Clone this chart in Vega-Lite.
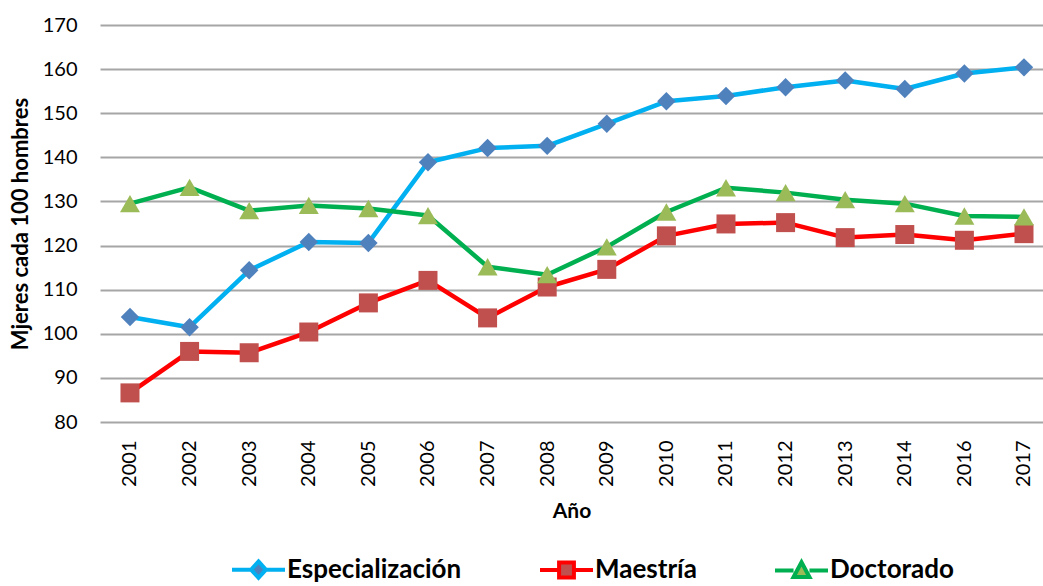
{
  "$schema": "https://vega.github.io/schema/vega-lite/v6.json",
  "width": 943,
  "height": 397,
  "autosize": {"type": "none"},
  "padding": {"left": 100, "top": 25, "right": 0, "bottom": 164},
  "background": "white",
  "config": {"view": {"stroke": null}, "font": "Lato"},
  "data": {
    "values": [
      {"anio": "2001", "serie": "Especialización", "valor": 103.8},
      {"anio": "2002", "serie": "Especialización", "valor": 101.5},
      {"anio": "2003", "serie": "Especialización", "valor": 114.4},
      {"anio": "2004", "serie": "Especialización", "valor": 120.8},
      {"anio": "2005", "serie": "Especialización", "valor": 120.6},
      {"anio": "2006", "serie": "Especialización", "valor": 138.9},
      {"anio": "2007", "serie": "Especialización", "valor": 142.1},
      {"anio": "2008", "serie": "Especialización", "valor": 142.6},
      {"anio": "2009", "serie": "Especialización", "valor": 147.6},
      {"anio": "2010", "serie": "Especialización", "valor": 152.7},
      {"anio": "2011", "serie": "Especialización", "valor": 153.9},
      {"anio": "2012", "serie": "Especialización", "valor": 155.9},
      {"anio": "2013", "serie": "Especialización", "valor": 157.4},
      {"anio": "2014", "serie": "Especialización", "valor": 155.5},
      {"anio": "2016", "serie": "Especialización", "valor": 159.0},
      {"anio": "2017", "serie": "Especialización", "valor": 160.4},
      {"anio": "2001", "serie": "Maestría", "valor": 86.6},
      {"anio": "2002", "serie": "Maestría", "valor": 96.0},
      {"anio": "2003", "serie": "Maestría", "valor": 95.7},
      {"anio": "2004", "serie": "Maestría", "valor": 100.4},
      {"anio": "2005", "serie": "Maestría", "valor": 107.0},
      {"anio": "2006", "serie": "Maestría", "valor": 112.1},
      {"anio": "2007", "serie": "Maestría", "valor": 103.6},
      {"anio": "2008", "serie": "Maestría", "valor": 110.6},
      {"anio": "2009", "serie": "Maestría", "valor": 114.6},
      {"anio": "2010", "serie": "Maestría", "valor": 122.2},
      {"anio": "2011", "serie": "Maestría", "valor": 124.9},
      {"anio": "2012", "serie": "Maestría", "valor": 125.2},
      {"anio": "2013", "serie": "Maestría", "valor": 121.8},
      {"anio": "2014", "serie": "Maestría", "valor": 122.5},
      {"anio": "2016", "serie": "Maestría", "valor": 121.2},
      {"anio": "2017", "serie": "Maestría", "valor": 122.7},
      {"anio": "2001", "serie": "Doctorado", "valor": 129.5},
      {"anio": "2002", "serie": "Doctorado", "valor": 133.2},
      {"anio": "2003", "serie": "Doctorado", "valor": 127.9},
      {"anio": "2004", "serie": "Doctorado", "valor": 129.1},
      {"anio": "2005", "serie": "Doctorado", "valor": 128.4},
      {"anio": "2006", "serie": "Doctorado", "valor": 126.8},
      {"anio": "2007", "serie": "Doctorado", "valor": 115.2},
      {"anio": "2008", "serie": "Doctorado", "valor": 113.4},
      {"anio": "2009", "serie": "Doctorado", "valor": 119.7},
      {"anio": "2010", "serie": "Doctorado", "valor": 127.6},
      {"anio": "2011", "serie": "Doctorado", "valor": 133.1},
      {"anio": "2012", "serie": "Doctorado", "valor": 132.0},
      {"anio": "2013", "serie": "Doctorado", "valor": 130.4},
      {"anio": "2014", "serie": "Doctorado", "valor": 129.5},
      {"anio": "2016", "serie": "Doctorado", "valor": 126.7},
      {"anio": "2017", "serie": "Doctorado", "valor": 126.5}
    ]
  },
  "encoding": {
    "x": {
      "field": "anio",
      "type": "ordinal",
      "title": "Año",
      "scale": {"type": "point", "padding": 0.411, "align": 0.612},
      "axis": {
        "domain": false,
        "ticks": false,
        "grid": false,
        "labelAngle": -90,
        "labelFont": "Lato",
        "labelFontSize": 20,
        "labelColor": "#000000",
        "labelPadding": 18,
        "titleFont": "Lato",
        "titleFontSize": 21,
        "titleFontWeight": "bold",
        "titleColor": "#000000",
        "titlePadding": 14
      }
    },
    "y": {
      "field": "valor",
      "type": "quantitative",
      "title": "Mjeres cada 100 hombres",
      "scale": {"domain": [80, 170], "nice": false, "zero": false},
      "axis": {
        "values": [80, 90, 100, 110, 120, 130, 140, 150, 160, 170],
        "domain": false,
        "ticks": false,
        "grid": true,
        "gridColor": "#A6A6A6",
        "gridWidth": 2,
        "labelFont": "Lato",
        "labelFontSize": 20,
        "labelColor": "#000000",
        "labelPadding": 23,
        "titleFont": "Lato",
        "titleFontSize": 22,
        "titleFontWeight": "bold",
        "titleColor": "#000000",
        "titlePadding": 10
      }
    }
  },
  "layer": [
    {
      "mark": {"type": "line", "strokeWidth": 4.5, "strokeJoin": "round"},
      "encoding": {
        "stroke": {
          "field": "serie",
          "type": "nominal",
          "scale": {
            "domain": ["Especialización", "Maestría", "Doctorado"],
            "range": ["#00B0F0", "#FF0000", "#00B050"]
          },
          "legend": {
            "title": null,
            "orient": "none",
            "legendX": 130,
            "legendY": 516,
            "direction": "horizontal",
            "columns": 3,
            "columnPadding": 70,
            "padding": 0,
            "labelOffset": 0,
            "labelLimit": 400,
            "symbolSize": 2809,
            "symbolStrokeWidth": 4,
            "labelFont": "Lato",
            "labelFontSize": 26,
            "labelFontWeight": "bold",
            "labelColor": "#000000",
            "encode": {
              "symbols": {
                "update": {
                  "shape": {"signal": "datum.value === 'Especialización' ? 'M-1,0L-0.3,0M0.3,0L1,0M0,-0.31L0.28,0L0,0.31L-0.28,0Z' : datum.value === 'Maestría' ? 'M-1,0L-0.3,0M0.3,0L1,0M-0.28,-0.28L0.28,-0.28L0.28,0.28L-0.28,0.28Z' : 'M-1,0L-0.3,0M0.3,0L1,0M0,-0.31L0.3,0.25L-0.3,0.25Z'"},
                  "fill": {"signal": "datum.value === 'Especialización' ? '#4F81BD' : datum.value === 'Maestría' ? '#C0504D' : '#9BBB59'"},
                  "strokeWidth": {"value": 4},
                  "opacity": {"value": 1}
                }
              }
            }
          }
        }
      }
    },
    {
      "transform": [{"filter": "datum.serie === 'Especialización'"}],
      "mark": {"type": "point", "filled": true, "opacity": 1, "size": 340, "shape": "diamond", "color": "#4F81BD"},
      "encoding": {}
    },
    {
      "transform": [{"filter": "datum.serie === 'Maestría'"}],
      "mark": {"type": "point", "filled": true, "opacity": 1, "size": 361, "shape": "square", "color": "#C0504D"},
      "encoding": {}
    },
    {
      "transform": [{"filter": "datum.serie === 'Doctorado'"}],
      "mark": {"type": "point", "filled": true, "opacity": 1, "size": 400, "shape": "triangle-up", "color": "#9BBB59"},
      "encoding": {}
    }
  ]
}
